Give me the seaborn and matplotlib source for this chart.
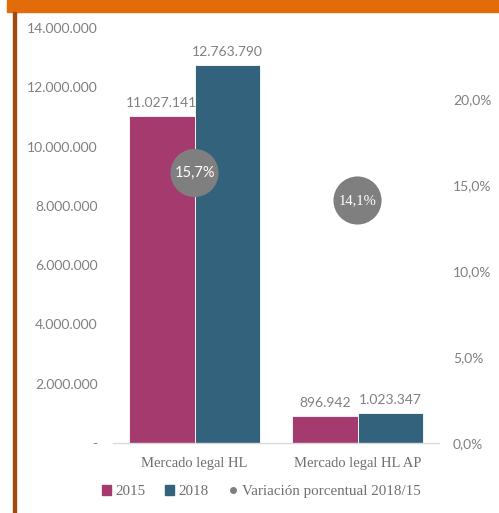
import pandas as pd
import numpy as np
import matplotlib.pyplot as plt
import matplotlib.patches as mpatches
from matplotlib.lines import Line2D
import seaborn as sns

categories = ['Mercado legal HL', 'Mercado legal HL AP']
years = ['2015', '2018']
v2015 = [11027141, 896942]
v2018 = [12763790, 1023347]
variacion = [0.157, 0.141]
var_labels = ['15,7%', '14,1%']

left_ticks = [0, 2000000, 4000000, 6000000, 8000000, 10000000, 12000000, 14000000]
right_ticks = [0.0, 0.05, 0.10, 0.15, 0.20]

pal = {'2015': '#A53A6E', '2018': '#33637C'}
grey = '#808080'

df = pd.DataFrame({
    'cat': categories * 2,
    'year': ['2015'] * 2 + ['2018'] * 2,
    'valor': v2015 + v2018,
})

sns.set_style('white')
plt.rcParams['font.family'] = ['Lato', 'DejaVu Sans']

fig = plt.figure(figsize=(4.99, 5.13), dpi=100)
ax = fig.add_axes([0.2265, 0.1365, 0.6533, 0.8089])

sns.barplot(data=df, x='cat', y='valor', hue='year', palette=pal, order=categories,
            hue_order=years, width=0.8, saturation=1, edgecolor='white',
            linewidth=0.6, ax=ax, legend=False)

def fmt(v):
    return f'{v:,.0f}'.replace(',', '.')

for c in ax.containers:
    ax.bar_label(c, labels=[fmt(b.get_height()) for b in c], padding=5,
                 color=grey, fontsize=10)

ax.set_ylim(0, 14000000)
ax.set_xlim(-0.5, 1.5)
ax.set_yticks(left_ticks)
ax.set_yticklabels(['-'] + [fmt(t) for t in left_ticks[1:]])
ax.set_xlabel('')
ax.set_ylabel('')
ax.tick_params(axis='y', length=0, pad=11, labelsize=10, labelcolor=grey)
ax.tick_params(axis='x', length=0, pad=10)
for lab in ax.get_xticklabels():
    lab.set_family('Liberation Serif')
    lab.set_fontsize(10.5)
    lab.set_color('#6f6f6f')
for s in ['left', 'right', 'top']:
    ax.spines[s].set_visible(False)
ax.spines['bottom'].set_color('#d9d9d9')
ax.spines['bottom'].set_linewidth(1)

ax2 = ax.twinx()
ax2.set_ylim(0, 0.2413)
ax2.set_yticks(right_ticks)
ax2.set_yticklabels([f'{t*100:.1f}%'.replace('.', ',') for t in right_ticks])
ax2.tick_params(axis='y', length=0, pad=10, labelsize=10, labelcolor=grey)
for s in ['left', 'right', 'top', 'bottom']:
    ax2.spines[s].set_visible(False)

xs = np.arange(len(categories))
sns.scatterplot(x=xs, y=variacion, s=1200, color='#7f7f7f', edgecolor='none',
                ax=ax2, legend=False, zorder=5)
fams = ['Lato', 'Liberation Serif']
for x, y, t, f in zip(xs, variacion, var_labels, fams):
    ax2.text(x, y, t, color='white', ha='center', va='center', fontsize=10.5,
             family=f, zorder=6)

handles = [mpatches.Patch(color=pal['2015'], label='2015'),
           mpatches.Patch(color=pal['2018'], label='2018'),
           Line2D([], [], marker='o', color='#7f7f7f', linestyle='none',
                  markersize=4, label='Variación porcentual 2018/15')]
fig.legend(handles=handles, loc='center', bbox_to_anchor=(0.523, 0.041), ncol=3,
           frameon=False, handlelength=0.6, handleheight=0.6, handletextpad=0.3,
           columnspacing=1.3, prop={'family': 'Liberation Serif', 'size': 10.8},
           labelcolor='#6f6f6f')

# decoration: orange band on top, brown rule on the left
fig.patches.append(mpatches.Rectangle((7 / 499, 1 - 12 / 513), 1, 12 / 513,
                                      transform=fig.transFigure, color='#E36C0A', zorder=0))
fig.patches.append(mpatches.Rectangle((13 / 499, 0), 3 / 499, 1 - 12 / 513,
                                      transform=fig.transFigure, color='#A0480F', zorder=0))

fig.savefig('out.png', dpi=100)
